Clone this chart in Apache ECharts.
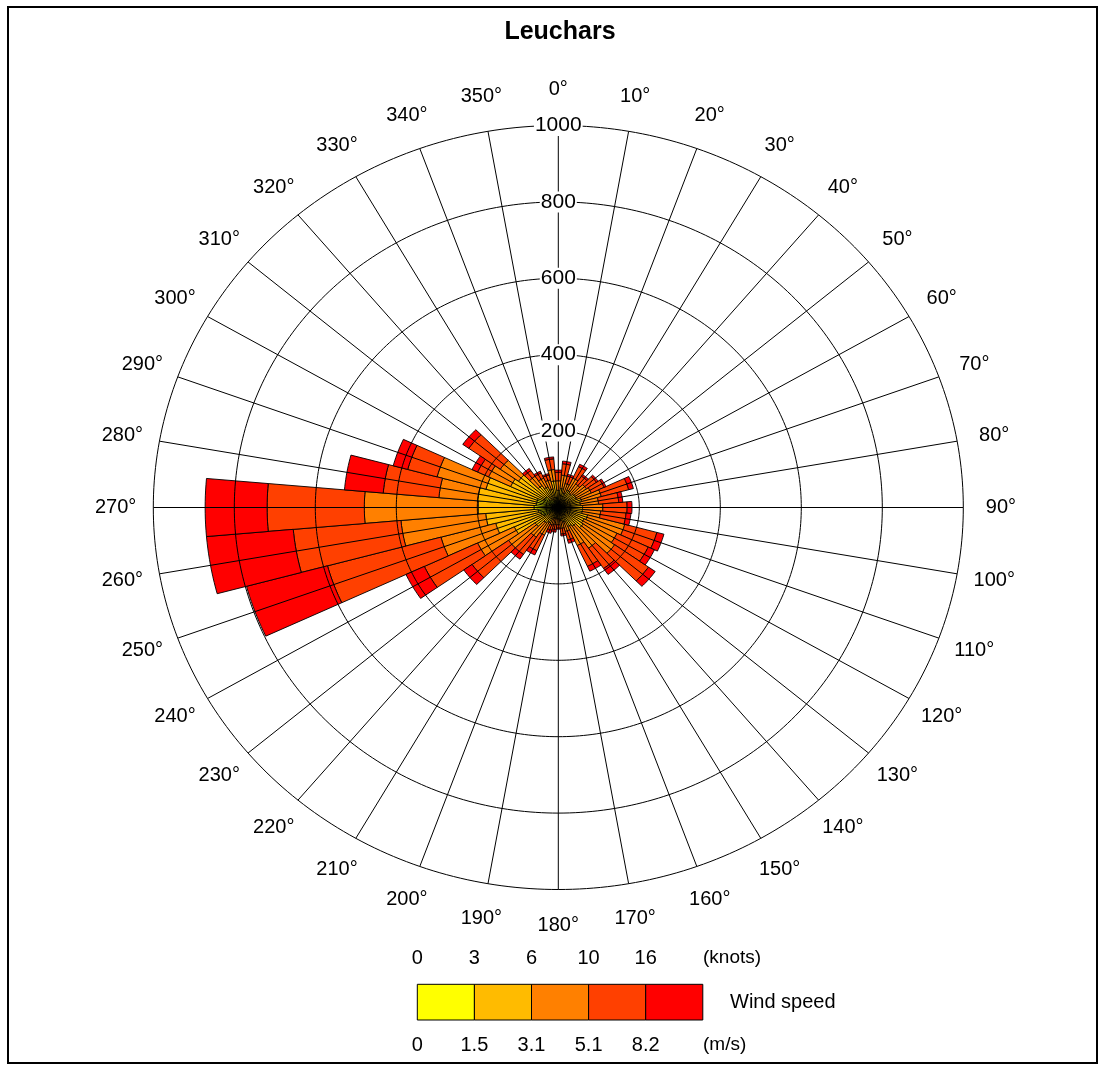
<!DOCTYPE html>
<html><head><meta charset="utf-8">
<script src="https://cdn.jsdelivr.net/npm/echarts@6/dist/echarts.min.js"></script>
<style>html,body{margin:0;padding:0;background:#fff}#c{width:1103px;height:1065px}</style>
</head><body><div id="c"></div>
<script>
// ---- data ----
const title = 'Leuchars';
const directions = [0,10,20,30,40,50,60,70,80,90,100,110,120,130,140,150,160,170,180,190,200,210,220,230,240,250,260,270,280,290,300,310,320,330,340,350];
// counts per speed bin (stacked outward)
const bin0to1_5 = [15,15,12,15,12,15,15,18,18,20,20,20,20,20,18,15,12,10,10,10,10,15,15,20,40,45,50,60,55,55,40,40,25,20,18,25];
const bin1_5to3_1 = [30,35,28,35,33,35,35,42,37,40,40,55,50,55,42,40,28,25,20,20,20,30,35,50,80,115,130,138,145,130,90,80,45,40,32,45];
const bin3_1to5_1 = [25,35,25,35,30,35,40,50,45,50,45,95,90,95,70,55,25,20,15,15,18,35,45,80,100,140,210,281,96,125,60,55,30,25,25,30];
const bin5_1to8_2 = [22,30,20,33,25,30,35,70,50,60,63,82,85,102,65,60,23,15,9,13,14,45,55,110,145,290,267,240,138,75,30,95,18,15,13,28];
const bin8_2plus = [6,7,5,7,5,5,5,12,10,12,12,18,17,20,19,14,9,5,3,7,8,12,15,25,50,207,215,153,96,37,15,18,7,5,4,5];
const ringTicks = [200,400,600,800,1000];
const knotLabels = ['0','3','6','10','16'];
const msLabels = ['0','1.5','3.1','5.1','8.2'];

// ---- styles ----
const bins = [bin0to1_5, bin1_5to3_1, bin3_1to5_1, bin5_1to8_2, bin8_2plus];
const binColors = ['#FFFF00','#FFBB00','#FF8000','#FF4000','#FF0000'];
const FONT = '"Liberation Sans", Arial, sans-serif';
const RMAX = 1000;
const LABEL_R = 1093;

const chart = echarts.init(document.getElementById('c'), null, {renderer:'canvas'});

function pt(api, r, deg){
  const t = deg*Math.PI/180;
  return api.coord([r*Math.sin(t), r*Math.cos(t)]);
}

const barSeries = bins.map((vals, b) => ({
  type:'custom', coordinateSystem:'cartesian2d', z: 2, silent:true,
  data: directions.map((d,i) => {
    let base = 0; for (let k=0;k<b;k++) base += bins[k][i];
    return [d, base, base + vals[i]];
  }),
  renderItem(params, api){
    const a = api.value(0), r0 = api.value(1), r1 = api.value(2);
    const pts = [];
    for (let i=0;i<=10;i++) pts.push(pt(api, r1, a-5+i));
    for (let i=10;i>=0;i--) pts.push(pt(api, r0, a-5+i));
    return {type:'polygon', shape:{points:pts}, style:{fill:binColors[b], stroke:'#000', lineWidth:0.9}};
  }
}));

const ringSeries = {
  type:'custom', coordinateSystem:'cartesian2d', z: 5, silent:true,
  data: ringTicks.map(r => [0, r]),
  renderItem(params, api){
    const r = api.value(1); const pts = [];
    for (let i=0;i<=360;i++) pts.push(pt(api, r, i));
    return {type:'polyline', shape:{points:pts}, style:{stroke:'#000', lineWidth:1, fill:null}};
  }
};
const spokeSeries = {
  type:'custom', coordinateSystem:'cartesian2d', z: 5, silent:true,
  data: directions.map(d => [d, 0]),
  renderItem(params, api){
    const d = api.value(0);
    const c = pt(api, 0, d), e = pt(api, RMAX, d);
    return {type:'line', shape:{x1:c[0], y1:c[1], x2:e[0], y2:e[1]}, style:{stroke:'#000', lineWidth:1}};
  }
};
const ringLabelSeries = {
  type:'custom', coordinateSystem:'cartesian2d', z: 8, silent:true,
  data: ringTicks.map(r => [0, r]),
  renderItem(params, api){
    const r = api.value(1); const p = pt(api, r, 0);
    return {type:'text', x:p[0], y:p[1], style:{text:String(r), fill:'#000', font:'21px '+FONT, align:'center', verticalAlign:'middle', backgroundColor:'#fff', padding:[0,1]}};
  }
};
const angleLabelSeries = {
  type:'custom', coordinateSystem:'cartesian2d', z: 8, silent:true,
  data: directions.map(d => [d, LABEL_R]),
  renderItem(params, api){
    const d = api.value(0); const p = pt(api, api.value(1), d);
    return {type:'text', x:p[0], y:p[1], style:{text:d+'°', fill:'#000', font:'20px '+FONT, align:'center', verticalAlign:'middle'}};
  }
};

// legend graphics
const LX = 417.3, LW = 57.1, LY = 984.3, LH = 35.7;
const graphics = [
  {type:'rect', shape:{x:8, y:7, width:1089, height:1056}, style:{fill:null, stroke:'#000', lineWidth:2}, z:0},
  {type:'text', x:560, y:32, style:{text:title, font:'bold 25px '+FONT, fill:'#000', align:'center', verticalAlign:'middle'}}
];
binColors.forEach((c,i) => {
  graphics.push({type:'rect', shape:{x:LX+i*LW, y:LY, width:LW, height:LH}, style:{fill:c, stroke:'#000', lineWidth:1}});
  graphics.push({type:'text', x:LX+i*LW, y:958, style:{text:knotLabels[i], font:'20px '+FONT, fill:'#000', align:'center', verticalAlign:'middle'}});
  graphics.push({type:'text', x:LX+i*LW, y:1045, style:{text:msLabels[i], font:'20px '+FONT, fill:'#000', align:'center', verticalAlign:'middle'}});
});
graphics.push({type:'text', x:703, y:958, style:{text:'(knots)', font:'19px '+FONT, fill:'#000', align:'left', verticalAlign:'middle'}});
graphics.push({type:'text', x:703, y:1045, style:{text:'(m/s)', font:'19px '+FONT, fill:'#000', align:'left', verticalAlign:'middle'}});
graphics.push({type:'text', x:730, y:1002, style:{text:'Wind speed', font:'20px '+FONT, fill:'#000', align:'left', verticalAlign:'middle'}});

chart.setOption({
  animation:false,
  backgroundColor:'#fff',
  grid:{left:153.3, top:125.5, width:810, height:764},
  xAxis:{type:'value', min:-RMAX, max:RMAX, show:false},
  yAxis:{type:'value', min:-RMAX, max:RMAX, show:false},
  graphic: graphics,
  series: [...barSeries, ringSeries, spokeSeries, ringLabelSeries, angleLabelSeries]
});
</script></body></html>
